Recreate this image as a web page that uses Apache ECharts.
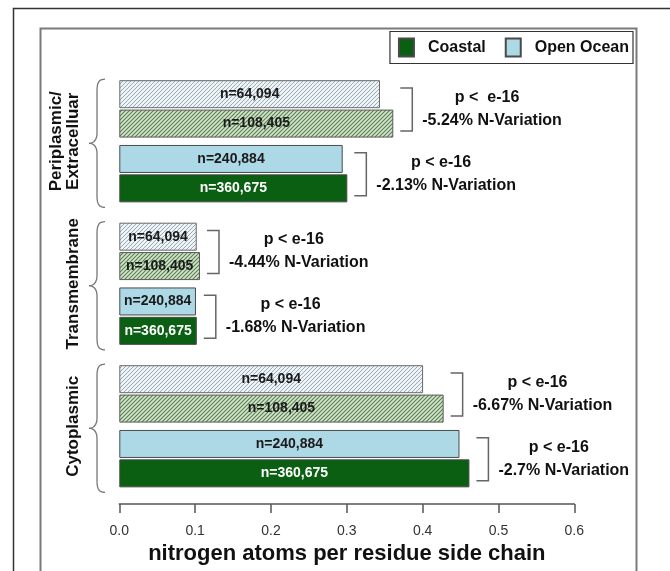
<!DOCTYPE html>
<html><head><meta charset="utf-8">
<script src="https://cdn.jsdelivr.net/npm/echarts@6/dist/echarts.min.js"></script>
<style>html,body{margin:0;padding:0;background:#fff}#c{width:670px;height:571px}</style>
</head><body><div id="c"></div>
<script>
// ---------- data ----------
const groups = ['Periplasmic/\nExtracelluar', 'Transmembrane', 'Cytoplasmic'];
const openOceanHatched = [0.3438, 0.1021, 0.4006];
const coastalHatched   = [0.3613, 0.1064, 0.4277];
const openOceanSolid   = [0.2946, 0.1011, 0.4486];
const coastalSolid     = [0.3007, 0.1022, 0.4617];
const nOpenHatched  = 'n=64,094';
const nCoastHatched = 'n=108,405';
const nOpenSolid    = 'n=240,884';
const nCoastSolid   = 'n=360,675';
const pHatched = ['p <  e-16', 'p < e-16', 'p < e-16'];
const pSolid   = ['p < e-16', 'p < e-16', 'p < e-16'];
const variationHatched = ['-5.24% N-Variation', '-4.44% N-Variation', '-6.67% N-Variation'];
const variationSolid   = ['-2.13% N-Variation', '-1.68% N-Variation', '-2.7% N-Variation'];
const xMin = 0, xMax = 0.6, xStep = 0.1;
const xTitle = 'nitrogen atoms per residue side chain';
const legendNames = ['Coastal', 'Open Ocean'];

// ---------- layout ----------
const FONT = '"Liberation Sans", Arial, Helvetica, sans-serif';
const SLOT_COUNT = 33;
const pairSlots = [[2, 7], [13, 18], [24, 29]];
const BAR_W = 28;
const GREEN = '#0a5f12', LIGHT = '#add8e6', EDGE = '#4a4a4a';

function hatch(bg, fg, size, lw) {
  const c = document.createElement('canvas');
  c.width = c.height = size;
  const g = c.getContext('2d');
  g.fillStyle = bg; g.fillRect(0, 0, size, size);
  g.strokeStyle = fg; g.lineWidth = lw;
  g.beginPath();
  g.moveTo(-1, size + 1); g.lineTo(size + 1, -1);
  g.moveTo(-1, 1); g.lineTo(1, -1);
  g.moveTo(size - 1, size + 1); g.lineTo(size + 1, size - 1);
  g.stroke();
  return { image: c, repeat: 'repeat' };
}
const hatchOpen = hatch('#eef3f6', '#98aab5', 4, 1);
const hatchCoast = hatch('#d5e3cf', '#56804c', 4, 1.1);

const cats = Array.from({ length: SLOT_COUNT }, (_, i) => 's' + i);
const openData = Array(SLOT_COUNT).fill('-');
const coastData = Array(SLOT_COUNT).fill('-');
const openLab = {}, coastLab = {};
groups.forEach((g, k) => {
  const [h, s] = pairSlots[k];
  openData[h] = { value: openOceanHatched[k], itemStyle: { color: hatchOpen, borderColor: '#6a6a6a' } };
  coastData[h] = { value: coastalHatched[k], itemStyle: { color: hatchCoast, borderColor: '#5a5a5a' } };
  openData[s] = openOceanSolid[k];
  coastData[s] = { value: coastalSolid[k], label: { color: '#ffffff' } };
  openLab[h] = nOpenHatched; coastLab[h] = nCoastHatched;
  openLab[s] = nOpenSolid; coastLab[s] = nCoastSolid;
});

const labelBase = { show: true, position: 'inside', fontFamily: FONT, fontWeight: 'bold', fontSize: 14, color: '#1a1a1a', textBorderWidth: 0 };

const chart = echarts.init(document.getElementById('c'));
chart.setOption({
  animation: false,
  backgroundColor: '#fff',
  grid: { left: 119.3, right: 95.7, top: 76.5, bottom: 67 },
  legend: {
    data: legendNames, right: 37, top: 31.5, icon: 'rect',
    itemWidth: 15, itemHeight: 18, itemGap: 19, padding: [6, 4, 6, 8],
    borderColor: '#333', borderWidth: 1.2, backgroundColor: '#fff',
    textStyle: { fontSize: 16, fontWeight: 'bold', color: '#111', fontFamily: FONT, padding: [0, 0, 0, 9] }
  },
  xAxis: {
    type: 'value', min: xMin, max: xMax, interval: xStep,
    name: xTitle, nameLocation: 'middle', nameGap: 38,
    nameTextStyle: { fontFamily: FONT, fontWeight: 'bold', fontSize: 22, color: '#111' },
    axisLine: { show: true, lineStyle: { color: '#555', width: 1.5 } },
    axisTick: { show: true, length: 9, lineStyle: { color: '#555', width: 1.5 } },
    splitLine: { show: false },
    axisLabel: { fontFamily: FONT, fontSize: 14, color: '#333', margin: 20, formatter: v => v.toFixed(1) }
  },
  yAxis: {
    type: 'category', data: cats, inverse: true,
    axisLine: { show: false }, axisTick: { show: false }, axisLabel: { show: false }
  },
  series: [
    { name: 'Open Ocean', type: 'bar', data: openData, barWidth: BAR_W, barGap: '5%',
      itemStyle: { color: LIGHT, borderColor: EDGE, borderWidth: 1 },
      label: Object.assign({}, labelBase, { formatter: p => openLab[p.dataIndex] || '' }) },
    { name: 'Coastal', type: 'bar', data: coastData, barWidth: BAR_W, barGap: '5%',
      itemStyle: { color: GREEN, borderColor: EDGE, borderWidth: 1 },
      label: Object.assign({}, labelBase, { formatter: p => coastLab[p.dataIndex] || '' }) }
  ]
});

// ---------- annotations ----------
const mctx = document.createElement('canvas').getContext('2d');
function tw(text, font) { mctx.font = font; return mctx.measureText(text).width; }
const annFont = 'bold 16px ' + FONT;
const els = [];
els.push({ type: 'rect', z: 0, shape: { x: 13.5, y: 8.5, width: 700, height: 620 }, style: { fill: 'none', stroke: '#333', lineWidth: 1.5 } });
els.push({ type: 'rect', z: 0, shape: { x: 40.5, y: 28.5, width: 596, height: 620 }, style: { fill: 'none', stroke: '#7a7a7a', lineWidth: 2 } });

const yPix = i => chart.convertToPixel({ yAxisIndex: 0 }, i);
const xPix = v => chart.convertToPixel({ xAxisIndex: 0 }, v);
const half = BAR_W * 1.025;

function pairAnn(slot, vals, pText, vText) {
  const cy = yPix(slot);
  const maxEnd = xPix(Math.max(...vals));
  const lx = maxEnd + 7, vx = maxEnd + 19;
  const top = cy - 21, bot = cy + 22;
  els.push({ type: 'polyline', shape: { points: [[lx, top], [vx, top], [vx, bot], [lx, bot]] }, style: { stroke: '#666', lineWidth: 1.5, fill: null } });
  const tx = vx + 10;
  const w = tw(vText, annFont);
  els.push({ type: 'text', style: { text: vText, x: tx, y: cy + 11.5, font: annFont, fill: '#111', align: 'left', verticalAlign: 'middle' } });
  els.push({ type: 'text', style: { text: pText, x: tx + w / 2 - 5, y: cy - 11.5, font: annFont, fill: '#111', align: 'center', verticalAlign: 'middle' } });
}

function cubic(p0, p1, p2, p3, n) {
  const out = [];
  for (let i = 0; i <= n; i++) {
    const t = i / n, u = 1 - t;
    out.push([
      u * u * u * p0[0] + 3 * u * u * t * p1[0] + 3 * u * t * t * p2[0] + t * t * t * p3[0],
      u * u * u * p0[1] + 3 * u * u * t * p1[1] + 3 * u * t * t * p2[1] + t * t * t * p3[1]
    ]);
  }
  return out;
}

groups.forEach((g, k) => {
  const [h, s] = pairSlots[k];
  pairAnn(h, [openOceanHatched[k], coastalHatched[k]], pHatched[k], variationHatched[k]);
  pairAnn(s, [openOceanSolid[k], coastalSolid[k]], pSolid[k], variationSolid[k]);
  // brace
  const T = yPix(h) - half - 1, B = yPix(s) + half + 5, M = (T + B) / 2;
  let pts = [];
  pts = pts.concat(cubic([105, T], [99, T], [97, T + 3], [97, T + 12], 10));
  pts = pts.concat(cubic([97, M - 10], [97, M - 4], [94, M], [89, M], 10));
  pts = pts.concat(cubic([89, M], [94, M], [97, M + 4], [97, M + 10], 10));
  pts = pts.concat(cubic([97, B - 12], [97, B - 3], [99, B], [105, B], 10));
  els.push({ type: 'polyline', shape: { points: pts }, style: { stroke: '#777', lineWidth: 1.3, fill: null } });
  // group label (rotated)
  const lines = g.split('\n');
  const gc = (yPix(h) + yPix(s)) / 2;
  lines.forEach((ln, j) => {
    const x = 73.5 - 17.5 * (lines.length - 1 - j);
    els.push({ type: 'text', x: x, y: gc, rotation: Math.PI / 2,
      style: { text: ln, x: 0, y: 0, font: 'bold 17px ' + FONT, fill: '#111', align: 'center', verticalAlign: 'middle' } });
  });
});
chart.setOption({ graphic: { elements: els } });
</script>
</body></html>
